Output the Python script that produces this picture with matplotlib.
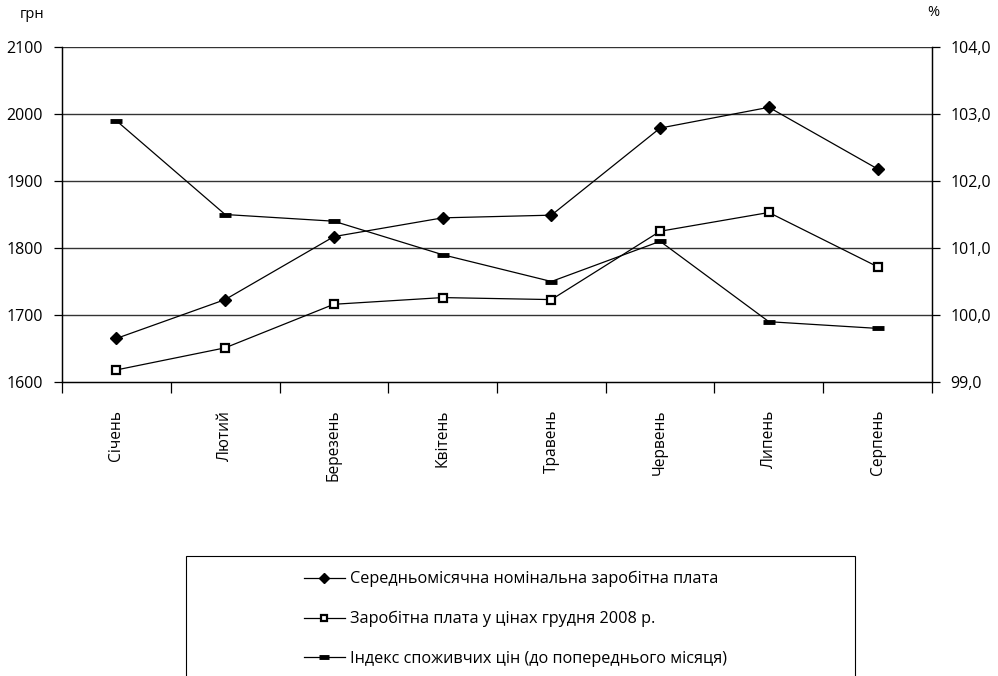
import matplotlib
matplotlib.use("Agg")
import matplotlib.pyplot as plt
from matplotlib.patches import Rectangle
from matplotlib.ticker import FuncFormatter, FixedLocator

plt.rcParams['font.family'] = ['Open Sans', 'DejaVu Sans']

# ---- data ----
months = ["Січень", "Лютий", "Березень", "Квітень", "Травень", "Червень", "Липень", "Серпень"]
nominal_wage = [1665, 1723, 1817, 1845, 1849, 1979, 2010, 1918]
real_wage = [1618, 1651, 1716, 1726, 1723, 1825, 1853, 1772]
cpi = [102.9, 101.5, 101.4, 100.9, 100.5, 101.1, 99.9, 99.8]

label_nominal = "Середньомісячна номінальна заробітна плата"
label_real = "Заробітна плата у цінах грудня 2008 р."
label_cpi = "Індекс споживчих цін (до попереднього місяця)"

W, H = 998, 676
fig = plt.figure(figsize=(W / 100, H / 100), dpi=100)
ax = fig.add_axes([62 / W, 1 - 382 / H, 870 / W, 335 / H])
ax2 = ax.twinx()

x = list(range(len(months)))

l1, = ax.plot(x, nominal_wage, color="black", lw=0.9, marker="D", ms=6.5,
              mfc="black", mec="black", zorder=4)
l2, = ax.plot(x, real_wage, color="black", lw=0.9, marker="s", ms=6,
              mfc="white", mec="black", mew=1.6, zorder=4)
l3, = ax2.plot(x, cpi, color="black", lw=0.9, marker="_", ms=9, mew=3.5,
               zorder=4)

ax.set_xlim(-0.5, len(months) - 0.5)
ax.set_ylim(1600, 2100)
ax.set_yticks(range(1600, 2101, 100))
ax2.set_ylim(99, 104)
ax2.set_yticks([99, 100, 101, 102, 103, 104])
ax2.yaxis.set_major_formatter(FuncFormatter(lambda v, p: f"{v:.1f}".replace(".", ",")))

# horizontal grid lines
for v in range(1700, 2101, 100):
    ax.axhline(v, color="#333333", lw=1.0, zorder=1)

# category labels, tick marks between categories
ax.set_xticks(x)
ax.set_xticklabels(months, rotation=90, fontsize=11.2)
ax.tick_params(axis="x", which="major", length=0, pad=20)
ax.xaxis.set_minor_locator(FixedLocator([i - 0.5 for i in range(len(months) + 1)]))
ax.tick_params(axis="x", which="minor", length=8, width=0.9, direction="out")

ax.tick_params(axis="y", length=6, width=0.9, labelsize=11.5, pad=8)
ax2.tick_params(axis="y", length=6, width=0.9, labelsize=11.5, pad=7)

for a in (ax, ax2):
    a.spines["top"].set_visible(False)
    for s in ("left", "right", "bottom"):
        a.spines[s].set_linewidth(0.9)

fig.text(20 / W, 1 - 15 / H, "грн", fontsize=10.5, va="center", ha="left")
fig.text(927 / W, 1 - 13 / H, "%", fontsize=10.5, va="center", ha="left")

# legend with an outer frame
fig.add_artist(Rectangle((186 / W, 1 - 700 / H), 669 / W, 144 / H,
                         transform=fig.transFigure, fill=False,
                         edgecolor="black", lw=0.8))
fig.legend([l1, l2, l3], [label_nominal, label_real, label_cpi],
           loc="upper left", bbox_to_anchor=(304 / W, 1 - 571 / H),
           frameon=False, fontsize=11.7, handlelength=2.5, handletextpad=0.3,
           labelspacing=1.45, borderaxespad=0, borderpad=0,
           markerscale=0.8)

fig.savefig("out.png", dpi=100)
